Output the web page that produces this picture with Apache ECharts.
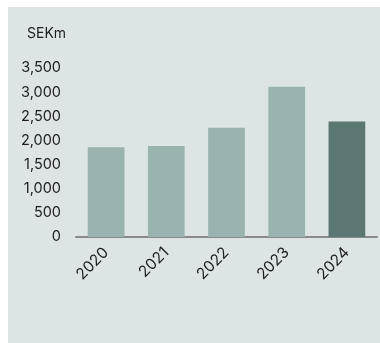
<!DOCTYPE html>
<html>
<head>
<meta charset="utf-8">
<script src="https://cdn.jsdelivr.net/npm/echarts@6/dist/echarts.min.js"></script>
<style>
  html, body { margin: 0; padding: 0; background: #ffffff; }
  #chart { width: 380px; height: 343px; }
</style>
</head>
<body>
<div id="chart"></div>
<script>
// Annual figures, SEK millions
const years = ['2020', '2021', '2022', '2023', '2024'];
const values = [1860, 1885, 2265, 3110, 2390];
const highlightYear = '2024';
const unitLabel = 'SEKm';

const barLight = '#99b3b1';
const barDark = '#5a7773';
const fontStack = 'Inter, "Liberation Sans", Arial, sans-serif';

const chart = echarts.init(document.getElementById('chart'), null, { renderer: 'canvas' });

chart.setOption({
  backgroundColor: '#ffffff',
  animation: false,
  graphic: [
    {
      type: 'rect',
      z: -10,
      silent: true,
      shape: { x: 8, y: 7, width: 372, height: 336 },
      style: { fill: '#dce4e5' }
    }
  ],
  title: {
    text: unitLabel,
    left: 22,
    top: 22,
    textStyle: { fontFamily: fontStack, fontSize: 14, fontWeight: 'normal', color: '#1e1e1e' }
  },
  grid: { left: 76, right: 3, top: 68, bottom: 106, containLabel: false },
  xAxis: {
    type: 'category',
    data: years,
    axisLine: { show: true, lineStyle: { color: '#8a8a8a', width: 2 } },
    axisTick: { show: false },
    axisLabel: {
      rotate: 45,
      margin: 13,
      fontFamily: fontStack,
      fontSize: 15.5,
      color: '#1e1e1e'
    }
  },
  yAxis: {
    type: 'value',
    min: 0,
    max: 3500,
    interval: 500,
    axisLine: { show: false },
    axisTick: { show: false },
    splitLine: { show: false },
    axisLabel: {
      margin: 15,
      fontFamily: fontStack,
      fontSize: 14.5,
      color: '#1e1e1e',
      formatter: v => v.toLocaleString('en-US')
    }
  },
  series: [
    {
      type: 'bar',
      barWidth: '61%',
      data: values.map((v, i) => ({
        value: v,
        itemStyle: { color: years[i] === highlightYear ? barDark : barLight }
      }))
    }
  ]
});
</script>
</body>
</html>
